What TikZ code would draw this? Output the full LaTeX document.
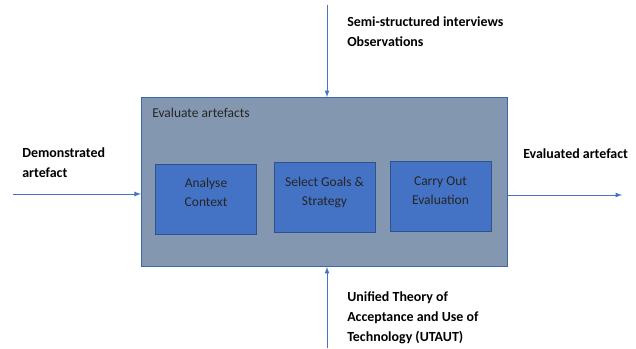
\documentclass[tikz,border=0pt]{standalone}
\usepackage{fontspec}
\setmainfont{Carlito}
\usepackage{tikz}
\usetikzlibrary{positioning}
\tikzset{>=latex}
\usepackage{xcolor}
\definecolor{outerfill}{HTML}{8497B0}
\definecolor{outerline}{HTML}{3F67A8}
\definecolor{stepfill}{HTML}{4472C4}
\definecolor{stepline}{HTML}{2F528F}
\definecolor{arrowcol}{HTML}{4472C4}
\tikzstyle{flow}=[->,arrowcol,line width=0.6pt]
\tikzstyle{stepbox}=[draw=stepline,fill=stepfill,line width=0.6pt,minimum width=2.525cm,minimum height=1.75cm,text depth=9pt,align=center,font=\fontsize{9.6}{13.5}\selectfont,text=black!85]
\tikzstyle{outerbox}=[draw=outerline,fill=outerfill,line width=0.7pt,minimum width=9.14cm,minimum height=4.225cm]
\tikzstyle{label}=[align=left,anchor=west,inner sep=0pt,font=\bfseries\fontsize{9.9}{14.2}\selectfont]

\begin{document}
\begin{tikzpicture}[x=0.025cm,y=-0.025cm]
  \useasboundingbox (0,0) rectangle (636,348);
  % main activity
  \node[outerbox] (evalbox) at (324.25,182) {};
  \node[anchor=west,inner sep=0pt,font=\fontsize{9.6}{13.5}\selectfont,text=black!85] (evaltitle) at (152,113) {Evaluate artefacts};

  % steps
  \node[stepbox] (context) at (206,199) {Analyse\\Context};
  \node[stepbox] (goals) at (324.5,197.5) {Select Goals \&\\Strategy};
  \node[stepbox] (carry) at (440.5,196.7) {Carry Out\\Evaluation};

  % inputs and outputs
  \coordinate (demin) at (13,194);
  \coordinate (obsin) at (327,5);
  \coordinate (theoryin) at (327,348);
  \coordinate (evalout) at (622,195);
  \draw[flow] (demin) -- (demin -| evalbox.west);
  \draw[flow] (obsin) -- (obsin |- evalbox.north);
  \draw[flow] (theoryin) -- (theoryin |- evalbox.south);
  \draw[flow] (evalbox.east |- evalout) -- (evalout);

  \node[label] (demtext) at (22,163) {Demonstrated\\artefact};
  \node[label] (obstext) at (347,32) {Semi-structured interviews\\Observations};
  \node[label] (theorytext) at (347,318) {Unified Theory of\\Acceptance and Use of\\Technology (UTAUT)};
  \node[label] (outtext) at (523,154) {Evaluated artefact};
\end{tikzpicture}
\end{document}
